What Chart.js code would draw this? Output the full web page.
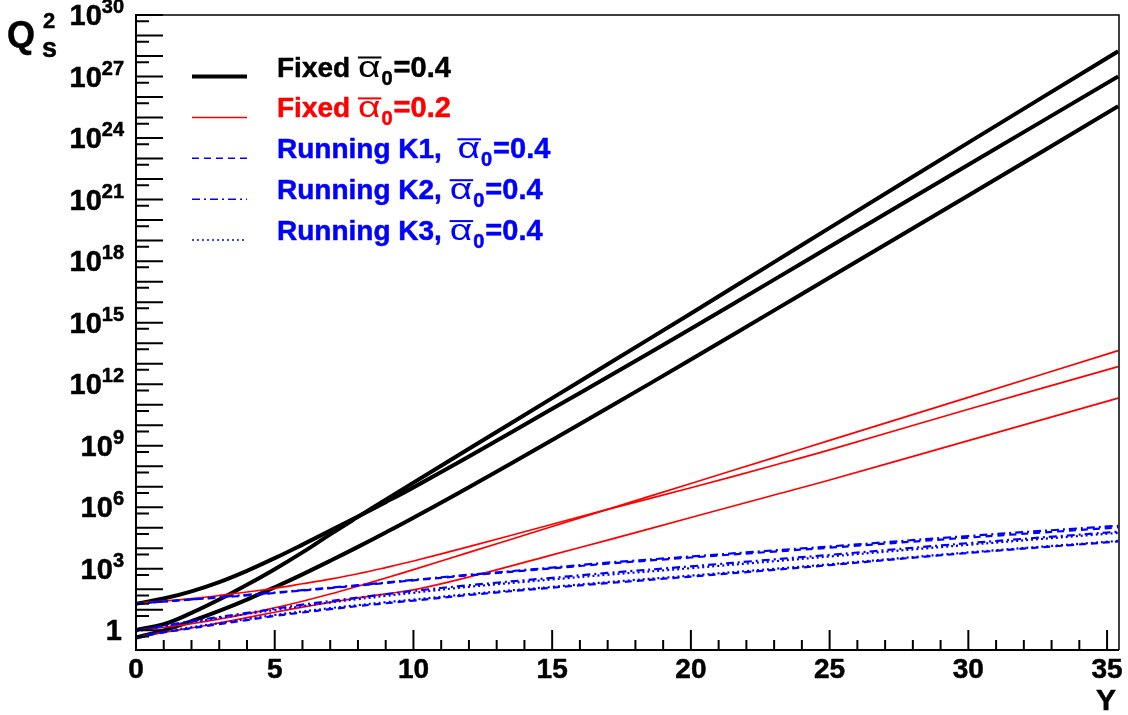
<!DOCTYPE html>
<html><head><meta charset="utf-8">
<script src="https://cdn.jsdelivr.net/npm/chart.js@4.4.1/dist/chart.umd.min.js"></script>
<style>html,body{margin:0;padding:0;background:#fff;}canvas{display:block;}</style>
</head><body>
<canvas id="c" width="1128" height="715"></canvas>
<script>
// Rapidity Y sample points
const rapidityY = [0,1,2,3,4,5,6,7,8,9,10,12,15,17,20,23,25,30,35.4];
// log10(Qs^2)
const fixed04_a = [1.3,1.55,1.9,2.35,2.9,3.52,4.18,4.86,5.55,6.25,6.97,8.48,10.8,12.35,14.7,17.1,18.7,22.7,27.0];
const fixed04_b = [0.02,0.3,0.85,1.5,2.22,2.98,3.8,4.68,5.53,6.37,7.2,8.85,11.32,12.97,15.45,17.95,19.62,23.78,28.23];
const fixed04_c = [-0.35,0.0,0.45,0.95,1.5,2.1,2.73,3.39,4.07,4.77,5.49,6.98,9.28,10.84,13.2,15.6,17.2,21.2,25.55];
const fixed02_a = [1.33,1.43,1.55,1.7,1.87,2.05,2.27,2.5,2.76,3.06,3.38,4.08,5.17,5.9,6.95,8.05,8.8,10.78,12.86];
const fixed02_b = [0.0,0.15,0.33,0.55,0.8,1.1,1.42,1.77,2.15,2.55,2.96,3.8,5.06,5.9,7.16,8.42,9.26,11.36,13.64];
const fixed02_c = [-0.33,-0.1,0.12,0.36,0.62,0.88,1.13,1.36,1.58,1.78,1.97,2.6,3.68,4.4,5.5,6.6,7.33,9.25,11.32];
const runK1_high = [1.3,1.4,1.5,1.6,1.7,1.82,1.94,2.06,2.18,2.31,2.44,2.68,3.02,3.25,3.55,3.84,4.03,4.52,5.02];
const runK1_low  = [-0.33,-0.1,0.1,0.3,0.5,0.7,0.87,1.03,1.18,1.32,1.45,1.72,2.08,2.3,2.62,2.95,3.18,3.77,4.33];
const runK2_high = [1.3,1.4,1.51,1.62,1.73,1.84,1.96,2.08,2.2,2.33,2.46,2.71,3.06,3.3,3.6,3.9,4.09,4.6,5.1];
const runK2_mid  = [0.0,0.22,0.45,0.65,0.85,1.05,1.25,1.43,1.6,1.76,1.92,2.2,2.56,2.8,3.12,3.46,3.68,4.25,4.81];
const runK3_mid  = [-0.05,0.18,0.4,0.6,0.8,0.99,1.18,1.36,1.52,1.68,1.83,2.12,2.48,2.71,3.03,3.37,3.6,4.17,4.75];
const runK3_low  = [-0.3,-0.06,0.15,0.35,0.55,0.75,0.92,1.08,1.23,1.37,1.5,1.77,2.12,2.35,2.67,3.0,3.22,3.8,4.36];
// tick labels
const xTickLabels = [0,5,10,15,20,25,30,35];
const yTickExponents = [0,3,6,9,12,15,18,21,24,27,30];

const FONT = '"Liberation Sans", Arial, Helvetica, sans-serif';
const DASH = [7,5], DASHDOT = [8,4,2,4], DOT = [2,3];

function series(arr){ return rapidityY.map((x,i)=>({x:x, y:Math.pow(10, arr[i])})); }
function ds(arr, color, width, dash){
  return {data: series(arr), borderColor: color, borderWidth: width, borderDash: dash||[],
          pointRadius: 0, fill: false, tension: 0.4};
}

const legendItems = [
  {pre:'Fixed ', suf:'=0.4', color:'#000000', width:4, dash:[]},
  {pre:'Fixed ', suf:'=0.2', color:'#ff0000', width:1.5, dash:[]},
  {pre:'Running K1,  ', suf:'=0.4', color:'#0000ff', width:1.5, dash:DASH},
  {pre:'Running K2, ', suf:'=0.4', color:'#0000ff', width:1.5, dash:DASHDOT},
  {pre:'Running K3, ', suf:'=0.4', color:'#0000ff', width:1.5, dash:DOT}
];

function txt(ctx, s, x, y){ ctx.fillText(s, x, y); ctx.strokeText(s, x, y); }

const decor = {
  id: 'decor',
  afterDraw(chart){
    const ctx = chart.ctx, ca = chart.chartArea, xs = chart.scales.x, ys = chart.scales.y;
    ctx.save();
    ctx.strokeStyle = '#000';
    // frame
    ctx.lineWidth = 1.5;
    ctx.beginPath(); ctx.moveTo(ca.left, ca.top); ctx.lineTo(ca.right, ca.top); ctx.lineTo(ca.right, ca.bottom); ctx.stroke();
    ctx.lineWidth = 2;
    ctx.beginPath(); ctx.moveTo(ca.left, ca.top-1); ctx.lineTo(ca.left, ca.bottom); ctx.lineTo(ca.right, ca.bottom); ctx.stroke();
    // y ticks
    ctx.beginPath();
    for (let e=-1; e<=30; e++){
      const v = Math.pow(10,e);
      if (v >= ys.min && v <= ys.max){ const p = ys.getPixelForValue(v); ctx.moveTo(ca.left, p); ctx.lineTo(ca.left+27, p); }
      const m = 5*Math.pow(10,e-1);
      if (m >= ys.min && m <= ys.max){ const p = ys.getPixelForValue(m); ctx.moveTo(ca.left, p); ctx.lineTo(ca.left+13, p); }
    }
    const p20 = ys.getPixelForValue(20); ctx.moveTo(ca.left, p20); ctx.lineTo(ca.left+13, p20);
    // x ticks
    for (let i=0; i<=35; i++){
      const p = xs.getPixelForValue(i), len = (i%5===0) ? 20 : 10;
      ctx.moveTo(p, ca.bottom); ctx.lineTo(p, ca.bottom-len);
    }
    ctx.stroke();
    // text
    ctx.lineWidth = 0.5; ctx.lineJoin = 'round';
    ctx.fillStyle = '#000'; ctx.strokeStyle = '#000'; ctx.textAlign = 'center'; ctx.textBaseline = 'alphabetic';
    ctx.font = 'bold 28px ' + FONT;
    xTickLabels.forEach(v => txt(ctx, String(v), xs.getPixelForValue(v), 678));
    yTickExponents.forEach(e => {
      const p = ys.getPixelForValue(Math.pow(10,e));
      const right = 124;
      if (e === 0){ ctx.font = 'bold 29px ' + FONT; ctx.textAlign='right'; txt(ctx, '1', right-2, p+10); return; }
      ctx.font = 'bold 20px ' + FONT; const sup = String(e); const sw = ctx.measureText(sup).width;
      ctx.textAlign = 'left'; txt(ctx, sup, right - sw, p - 2);
      ctx.font = 'bold 29px ' + FONT; ctx.textAlign = 'right'; txt(ctx, '10', right - sw, p + 10);
    });
    // axis titles
    ctx.textAlign = 'right'; ctx.font = 'bold 30px ' + FONT; txt(ctx, 'Y', 1116, 710);
    ctx.textAlign = 'left'; ctx.font = 'bold 36px ' + FONT; txt(ctx, 'Q', 7, 47);
    ctx.font = 'bold 22px ' + FONT; txt(ctx, '2', 43, 28);
    ctx.font = 'bold 27px ' + FONT; txt(ctx, 's', 42, 57);
    // legend
    legendItems.forEach((it, i) => {
      const y = 76.5 + i*40.9;
      ctx.strokeStyle = it.color; ctx.lineWidth = it.width; ctx.setLineDash(it.dash);
      ctx.beginPath(); ctx.moveTo(192, y); ctx.lineTo(247, y); ctx.stroke(); ctx.setLineDash([]);
      ctx.fillStyle = it.color; ctx.textAlign = 'left'; ctx.lineWidth = 0.5;
      let x = 277;
      ctx.font = 'bold 28px ' + FONT; txt(ctx, it.pre, x, y); x += ctx.measureText(it.pre).width;
      ctx.font = '30px ' + FONT; const aw = ctx.measureText('α').width * 1.3;
      ctx.save(); ctx.translate(x, y); ctx.scale(1.3, 1); ctx.fillText('α', 0, 0); ctx.restore();
      ctx.fillRect(x, y-20, aw+1, 2); x += aw + 1;
      ctx.font = 'bold 20px ' + FONT; txt(ctx, '0', x, y+8); x += ctx.measureText('0').width + 1;
      ctx.font = 'bold 29px ' + FONT; txt(ctx, it.suf, x, y);
    });
    ctx.restore();
  }
};

new Chart(document.getElementById('c'), {
  type: 'line',
  data: { datasets: [
    ds(runK1_high,'#0000ff',2.2,DASH), ds(runK1_low,'#0000ff',2.2,DASH),
    ds(runK2_high,'#0000ff',2.2,DASHDOT), ds(runK2_mid,'#0000ff',2.2,DASHDOT),
    ds(runK3_mid,'#0000ff',2.2,DOT), ds(runK3_low,'#0000ff',2.2,DOT),
    ds(fixed02_a,'#ff0000',1.7), ds(fixed02_b,'#ff0000',1.7), ds(fixed02_c,'#ff0000',1.7),
    ds(fixed04_a,'#000000',4), ds(fixed04_b,'#000000',4), ds(fixed04_c,'#000000',4)
  ]},
  options: {
    responsive: false, animation: false, devicePixelRatio: 1,
    layout: { padding: { left: 136, top: 15, right: 9, bottom: 65 } },
    plugins: { legend: { display: false }, tooltip: { enabled: false } },
    scales: {
      x: { type: 'linear', min: 0, max: 35.43, display: false },
      y: { type: 'logarithmic', min: 0.11, max: 1e30, display: false }
    }
  },
  plugins: [decor]
});
</script>
</body></html>
